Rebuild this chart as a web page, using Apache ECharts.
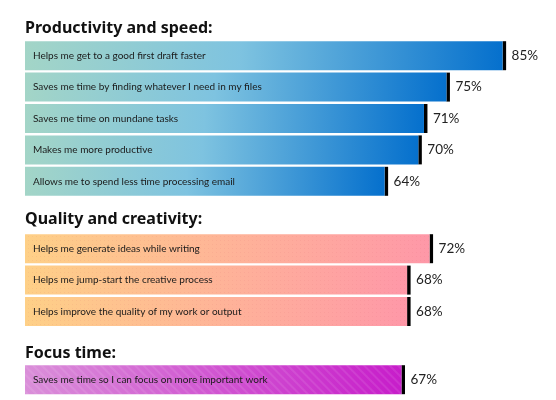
<!DOCTYPE html>
<html>
<head>
<meta charset="utf-8">
<script src="https://cdn.jsdelivr.net/npm/echarts@6/dist/echarts.min.js"></script>
<style>
  html, body { margin: 0; padding: 0; background: #fff; }
  #main { width: 556px; height: 400px; }
</style>
</head>
<body>
<div id="main"></div>
<script>
// section headings
var sectionTitles = ['Productivity and speed:', 'Quality and creativity:', 'Focus time:'];

// Productivity and speed
var prodCats = [
  'Helps me get to a good first draft faster',
  'Saves me time by finding whatever I need in my files',
  'Saves me time on mundane tasks',
  'Makes me more productive',
  'Allows me to spend less time processing email'
];
var prodVals = [85, 75, 71, 70, 64];

// Quality and creativity
var qualCats = [
  'Helps me generate ideas while writing',
  'Helps me jump-start the creative process',
  'Helps improve the quality of my work or output'
];
var qualVals = [72, 68, 68];

// Focus time
var focusCats = ['Saves me time so I can focus on more important work'];
var focusVals = [67];

var myChart = echarts.init(document.getElementById('main'));

var FONT = 'Lato, "Noto Sans", sans-serif';
var TITLE_FONT = '"Noto Sans", "Open Sans", sans-serif';
var BAR_H = 29;

function grad(stops) {
  return new echarts.graphic.LinearGradient(0, 0, 1, 0, stops.map(function (c) {
    return { offset: c[0], color: c[1] };
  }));
}

var fills = [
  grad([[0, '#a3d5c7'], [0.45, '#7ec3e0'], [1, '#0570cd']]),
  grad([[0, '#fed087'], [1, '#fe98a8']]),
  grad([[0, '#da8fd9'], [1, '#c71dca']])
];

var decals = [
  null,
  {
    symbol: 'circle',
    symbolSize: 1,
    dashArrayX: [1, 3],
    dashArrayY: [1, 3],
    color: 'rgba(210, 90, 110, 0.12)'
  },
  {
    symbol: 'rect',
    dashArrayX: [[1, 0]],
    dashArrayY: [1.5, 3.5],
    rotation: Math.PI / 4,
    color: 'rgba(255, 255, 255, 0.09)'
  }
];

var groups = [
  { cats: prodCats, vals: prodVals, top: 40, titleTop: 15 },
  { cats: qualCats, vals: qualVals, top: 233, titleTop: 206 },
  { cats: focusCats, vals: focusVals, top: 364, titleTop: 340 }
];

var PITCH = 31.4;

var grids = [], xAxes = [], yAxes = [], series = [], titles = [];

groups.forEach(function (g, i) {
  titles.push({
    text: sectionTitles[i],
    left: 20,
    top: g.titleTop,
    textStyle: { fontFamily: TITLE_FONT, fontSize: 16, fontWeight: 'bold', color: '#111' }
  });
  grids.push({ left: 25, right: 0, top: g.top, height: PITCH * g.cats.length });
  xAxes.push({ gridIndex: i, type: 'value', min: 0, max: 94.5, show: false });
  yAxes.push({ gridIndex: i, type: 'category', data: g.cats, inverse: true, show: false });

  var itemStyle = { color: fills[i] };
  if (decals[i]) itemStyle.decal = decals[i];

  series.push({
    type: 'bar',
    xAxisIndex: i,
    yAxisIndex: i,
    data: g.vals,
    barWidth: BAR_H,
    itemStyle: itemStyle,
    silent: true,
    label: {
      show: true,
      position: 'insideLeft',
      distance: 8,
      formatter: function (p) { return p.name; },
      fontFamily: FONT,
      fontSize: 10,
      color: '#1a1a1a'
    }
  });

  // black end cap and percentage label
  series.push({
    type: 'custom',
    xAxisIndex: i,
    yAxisIndex: i,
    data: g.vals.map(function (v, k) { return [v, k]; }),
    silent: true,
    renderItem: function (params, api) {
      var p = api.coord([api.value(0), api.value(1)]);
      return {
        type: 'group',
        children: [
          {
            type: 'rect',
            shape: { x: p[0], y: p[1] - BAR_H / 2, width: 3.5, height: BAR_H },
            style: { fill: '#000' }
          },
          {
            type: 'text',
            x: p[0] + 9,
            y: p[1],
            style: {
              text: api.value(0) + '%',
              fontFamily: FONT,
              fontSize: 13.5,
              fill: '#222',
              verticalAlign: 'middle'
            }
          }
        ]
      };
    }
  });
});

var option = {
  animation: false,
  title: titles,
  grid: grids,
  xAxis: xAxes,
  yAxis: yAxes,
  series: series
};

myChart.setOption(option);
</script>
</body>
</html>
